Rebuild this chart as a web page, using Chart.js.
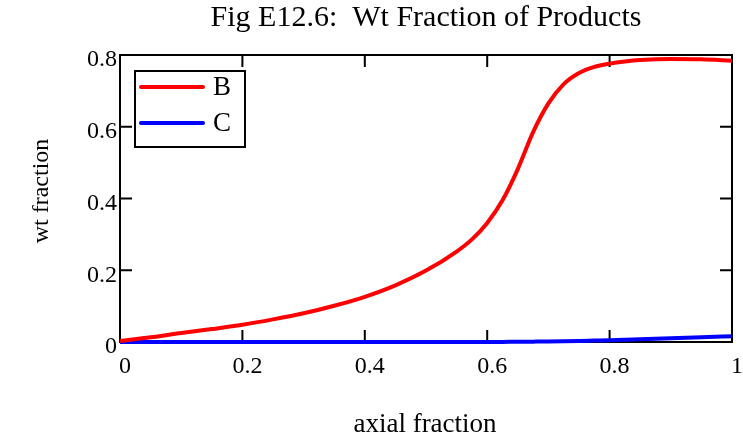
<!DOCTYPE html>
<html>
<head>
<meta charset="utf-8">
<script src="https://cdn.jsdelivr.net/npm/chart.js@4"></script>
<style>
  html, body { margin: 0; padding: 0; background: #fff; }
  #chart { display: block; }
</style>
</head>
<body>
<canvas id="chart" width="743" height="440"></canvas>
<script>
"use strict";

const chartTitle = "Fig E12.6:  Wt Fraction of Products";
const xTitle = "axial fraction";
const yTitle = "wt fraction";

const axialFraction = [0, 0.05, 0.1, 0.15, 0.2, 0.25, 0.3, 0.35, 0.4, 0.45, 0.5, 0.55, 0.575, 0.6,
    0.625, 0.65, 0.675, 0.7, 0.725, 0.75, 0.775, 0.8, 0.825, 0.85, 0.9, 0.95, 1];
const wtB = [0.003, 0.013, 0.025, 0.036, 0.048, 0.063, 0.080, 0.101, 0.126, 0.158, 0.199, 0.252, 0.286, 0.332,
    0.395, 0.482, 0.585, 0.665, 0.719, 0.750, 0.767, 0.776, 0.782, 0.786, 0.789, 0.788, 0.784];
const wtC = [0, 0, 0, 0, 0, 0, 0, 0, 0, 0, 0, 0, 0, 0,
    0.0003, 0.0006, 0.001, 0.0015, 0.0022, 0.003, 0.004, 0.005, 0.0062, 0.0075, 0.0102, 0.013, 0.016];

const xTicks = [0, 0.2, 0.4, 0.6, 0.8, 1];
const yTicks = [0, 0.2, 0.4, 0.6, 0.8];

const serif = "'Liberation Serif', 'Times New Roman', serif";

function toPoints(ys) {
    return axialFraction.map((x, i) => ({ x: x, y: ys[i] }));
}

// frame with inward ticks on all four sides, legend box, axis titles
const framePlugin = {
    id: "frame",
    beforeDatasetsDraw(chart) {
        const { ctx, chartArea: a, scales } = chart;
        ctx.save();
        ctx.strokeStyle = "#000";
        ctx.lineWidth = 2;
        ctx.strokeRect(a.left, a.top, a.right - a.left, a.bottom - a.top);
        const len = 12;
        ctx.beginPath();
        xTicks.slice(1, -1).forEach(v => {
            const px = scales.x.getPixelForValue(v);
            ctx.moveTo(px, a.bottom); ctx.lineTo(px, a.bottom - len);
            ctx.moveTo(px, a.top); ctx.lineTo(px, a.top + len);
        });
        yTicks.slice(1, -1).forEach(v => {
            const py = scales.y.getPixelForValue(v);
            ctx.moveTo(a.left, py); ctx.lineTo(a.left + len, py);
            ctx.moveTo(a.right, py); ctx.lineTo(a.right - len, py);
        });
        ctx.stroke();
        ctx.restore();
    },
    afterDatasetsDraw(chart) {
        const { ctx, chartArea: a } = chart;
        const bx = a.left + 15, by = a.top + 16, bw = 110, bh = 76;
        ctx.save();
        ctx.fillStyle = "#fff";
        ctx.fillRect(bx, by, bw, bh);
        ctx.strokeStyle = "#000";
        ctx.lineWidth = 2;
        ctx.strokeRect(bx, by, bw, bh);
        ctx.font = "27px " + serif;
        ctx.textBaseline = "middle";
        chart.data.datasets.forEach((ds, i) => {
            const y = by + 16 + i * 36;
            ctx.strokeStyle = ds.borderColor;
            ctx.lineWidth = 4;
            ctx.lineCap = "round";
            ctx.beginPath();
            ctx.moveTo(bx + 6, y); ctx.lineTo(bx + 68, y);
            ctx.stroke();
            ctx.fillStyle = "#000";
            ctx.fillText(ds.label, bx + 78, y + 1);
        });

        ctx.fillStyle = "#000";
        ctx.textAlign = "center";
        ctx.textBaseline = "alphabetic";
        ctx.font = "27px " + serif;
        ctx.fillText(xTitle, 425, 432);
        ctx.font = "24px " + serif;
        ctx.translate(48, 191);
        ctx.rotate(-Math.PI / 2);
        ctx.fillText(yTitle, 0, 0);
        ctx.restore();
    }
};

new Chart(document.getElementById("chart"), {
    type: "line",
    data: {
        datasets: [
            { label: "B", data: toPoints(wtB), borderColor: "#ff0000", backgroundColor: "#ff0000" },
            { label: "C", data: toPoints(wtC), borderColor: "#0000ff", backgroundColor: "#0000ff" }
        ]
    },
    options: {
        responsive: false,
        animation: false,
        devicePixelRatio: 1,
        layout: { padding: { left: 0, right: 11, top: 0, bottom: 0 } },
        elements: {
            point: { radius: 0 },
            line: { borderWidth: 4, cubicInterpolationMode: "monotone", fill: false }
        },
        datasets: { line: { clip: 6 } },
        plugins: {
            legend: { display: false },
            tooltip: { enabled: false },
            title: {
                display: true,
                fullSize: false,
                text: chartTitle,
                color: "#000",
                font: { family: serif, size: 30, weight: "normal" },
                padding: { top: 0, bottom: 19 }
            }
        },
        scales: {
            x: {
                type: "linear",
                min: 0, max: 1,
                afterFit: s => { s.height = 98; s.paddingLeft = 0; s.paddingRight = 0; },
                afterBuildTicks: s => { s.ticks = xTicks.map(v => ({ value: v })); },
                grid: { display: false, drawTicks: false },
                border: { display: false },
                ticks: {
                    color: "#000", font: { family: serif, size: 24 }, padding: 10, labelOffset: 5, maxRotation: 0,
                    callback: v => String(v)
                }
            },
            y: {
                type: "linear",
                min: 0, max: 0.8,
                afterFit: s => { s.width = 120; },
                afterBuildTicks: s => { s.ticks = yTicks.map(v => ({ value: v })); },
                grid: { display: false, drawTicks: false },
                border: { display: false },
                ticks: {
                    color: "#000", font: { family: serif, size: 24 }, padding: 3, labelOffset: 5,
                    callback: v => String(v)
                }
            }
        }
    },
    plugins: [framePlugin]
});
</script>
</body>
</html>
